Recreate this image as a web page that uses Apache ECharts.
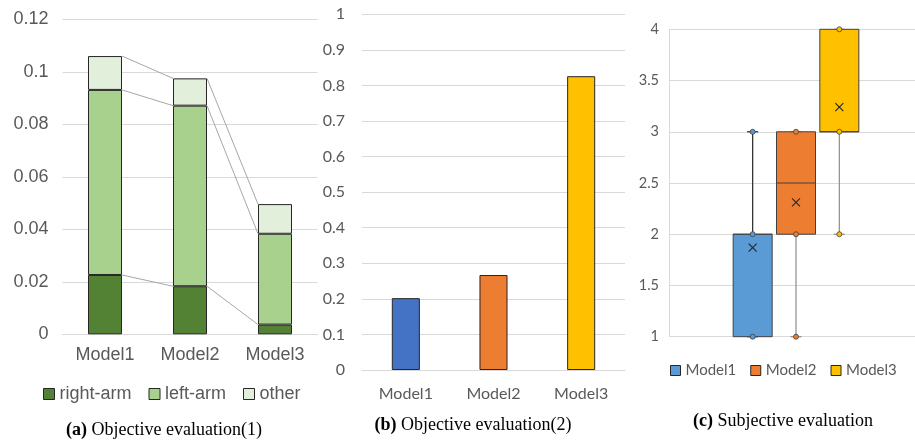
<!DOCTYPE html>
<html><head><meta charset="utf-8">
<script src="https://cdn.jsdelivr.net/npm/echarts@6/dist/echarts.min.js"></script>
<style>html,body{margin:0;padding:0;background:#fff}#c{width:915px;height:442px}</style>
</head><body><div id="c"></div>
<script>
// ---- data ----
const categories = ['Model1', 'Model2', 'Model3'];
// (a) stacked errors
const rightArm = [0.0226, 0.0183, 0.0037];
const leftArm  = [0.0705, 0.0688, 0.0346];
const other    = [0.0129, 0.0104, 0.0113];
// (b)
const objective2 = [0.202, 0.267, 0.826];
// (c) box stats per model: min, q1, median, q3, max, mean
const boxMin  = [1, 1, 2];
const boxQ1   = [1, 2, 3];
const boxMed  = [2, 2.5, 3];
const boxQ3   = [2, 3, 4];
const boxMax  = [3, 3, 4];
const boxMean = [1.87, 2.31, 3.24];
const boxPoints = [[1, 2, 3], [1, 2, 3], [2, 3, 4]];

const colorsA = ['#548235', '#A9D18E', '#E2EFDA'];
const colorsB = ['#4472C4', '#ED7D31', '#FFC000'];
const colorsC = ['#5B9BD5', '#ED7D31', '#FFC000'];
const grid = '#d9d9d9', txt = '#595959', edge = '#262626';

const chart = echarts.init(document.getElementById('c'), null, {renderer: 'canvas'});

// connector (series lines) data for panel a
const levels = [rightArm, leftArm, other];
const cum = categories.map((_, i) => {
  let s = 0; return levels.map(l => (s += l[i]));
});
const connData = [];
for (let i = 0; i < categories.length - 1; i++) {
  for (let k = 0; k < levels.length; k++) connData.push([i, cum[i][k], cum[i + 1][k]]);
}

const sansA = 'Liberation Sans', sansB = 'Lato';
const capFont = 18;

const option = {
  animation: false,
  grid: [
    {left: 62.5, width: 255, top: 19.3, height: 315},
    {left: 362, width: 263, top: 14.3, height: 355.7},
    {left: 669, right: -8, top: 29.3, height: 307.4},
    {left: 731, width: 130, top: 29.3, height: 307.4}
  ],
  xAxis: [
    {gridIndex: 0, type: 'category', data: categories, axisTick: {show: false},
     axisLine: {lineStyle: {color: grid}},
     axisLabel: {color: txt, fontFamily: sansA, fontSize: 18, margin: 12}},
    {gridIndex: 1, type: 'category', data: categories, axisTick: {show: false},
     axisLine: {lineStyle: {color: grid}},
     axisLabel: {color: txt, fontFamily: sansB, fontSize: 16, margin: 16}},
    {gridIndex: 2, type: 'category', data: [''], show: false},
    {gridIndex: 3, type: 'category', data: categories, show: false}
  ],
  yAxis: [
    {gridIndex: 0, type: 'value', min: 0, max: 0.12, interval: 0.02,
     axisLine: {show: false}, axisTick: {show: false},
     splitLine: {lineStyle: {color: grid}},
     axisLabel: {color: txt, fontFamily: sansA, fontSize: 18, margin: 14}},
    {gridIndex: 1, type: 'value', min: 0, max: 1, interval: 0.1,
     axisLine: {show: false}, axisTick: {show: false},
     splitLine: {lineStyle: {color: grid}},
     axisLabel: {color: txt, fontFamily: sansB, fontSize: 16, margin: 17}},
    {gridIndex: 2, type: 'value', min: 1, max: 4, interval: 0.5,
     axisLine: {show: true, lineStyle: {color: grid}}, axisTick: {show: false},
     splitLine: {lineStyle: {color: grid}},
     axisLabel: {color: txt, fontFamily: sansB, fontSize: 14.5, margin: 10}},
    {gridIndex: 3, type: 'value', min: 1, max: 4, show: false}
  ],
  legend: [
    {data: ['right-arm', 'left-arm', 'other'], left: 43, top: 385, padding: 0,
     icon: 'rect', itemWidth: 11, itemHeight: 11, itemGap: 17,
     itemStyle: {borderColor: edge, borderWidth: 1},
     textStyle: {color: txt, fontFamily: sansA, fontSize: 18}},
    {data: categories, left: 670, top: 363, padding: 0,
     icon: 'rect', itemWidth: 10, itemHeight: 10, itemGap: 14,
     itemStyle: {borderColor: edge, borderWidth: 1},
     textStyle: {color: txt, fontFamily: sansB, fontSize: 15}}
  ],
  series: [
    ...['right-arm', 'left-arm', 'other'].map((n, k) => ({
      name: n, type: 'bar', stack: 'a', xAxisIndex: 0, yAxisIndex: 0,
      barWidth: '40%', data: levels[k],
      itemStyle: {color: colorsA[k], borderColor: edge, borderWidth: 1}
    })),
    {
      name: 'conn', type: 'custom', xAxisIndex: 0, yAxisIndex: 0, silent: true,
      encode: {x: 0, y: [1, 2]}, data: connData, z: 1,
      renderItem: (params, api) => {
        const i = api.value(0);
        const half = api.size([1, 0])[0] * 0.2;
        const p1 = api.coord([i, api.value(1)]);
        const p2 = api.coord([i + 1, api.value(2)]);
        return {type: 'line', shape: {x1: p1[0] + half, y1: p1[1], x2: p2[0] - half, y2: p2[1]},
                style: {stroke: '#a6a6a6', lineWidth: 1}};
      }
    },
    {
      name: 'objective2', type: 'bar', xAxisIndex: 1, yAxisIndex: 1, barWidth: '32%',
      data: objective2.map((v, i) => ({value: v, itemStyle: {color: colorsB[i]}})),
      itemStyle: {borderColor: edge, borderWidth: 1}
    },
    ...categories.map((n, i) => ({
      name: n, type: 'custom', xAxisIndex: 3, yAxisIndex: 3,
      itemStyle: {color: colorsC[i]},
      encode: {x: 0, y: [1, 2, 3, 4, 5, 6]},
      data: [[i, boxMin[i], boxQ1[i], boxMed[i], boxQ3[i], boxMax[i], boxMean[i]]],
      renderItem: (params, api) => {
        const x = api.value(0);
        const hw = api.size([1, 0])[0] * 0.45;
        const P = v => api.coord([x, v]);
        const pMin = P(api.value(1)), pQ1 = P(api.value(2)), pMed = P(api.value(3));
        const pQ3 = P(api.value(4)), pMax = P(api.value(5)), pMean = P(api.value(6));
        const cx = pMin[0];
        const wc = i === 0 ? '#262626' : '#8c8c8c';
        const cap = 5.5, m = 4;
        return {type: 'group', children: [
          {type: 'line', shape: {x1: cx, y1: pMin[1], x2: cx, y2: pMax[1]}, style: {stroke: wc, lineWidth: 1.2}},
          {type: 'line', shape: {x1: cx - cap, y1: pMin[1], x2: cx + cap, y2: pMin[1]}, style: {stroke: wc, lineWidth: 1.2}},
          {type: 'line', shape: {x1: cx - cap, y1: pMax[1], x2: cx + cap, y2: pMax[1]}, style: {stroke: wc, lineWidth: 1.2}},
          {type: 'rect', shape: {x: cx - hw, y: pQ3[1], width: 2 * hw, height: pQ1[1] - pQ3[1]},
           style: {fill: api.visual('color'), stroke: '#404040', lineWidth: 1}},
          {type: 'line', shape: {x1: cx - hw, y1: pMed[1], x2: cx + hw, y2: pMed[1]}, style: {stroke: '#404040', lineWidth: 1}},
          {type: 'line', shape: {x1: cx - m, y1: pMean[1] - m, x2: cx + m, y2: pMean[1] + m}, style: {stroke: '#262626', lineWidth: 1.1}},
          {type: 'line', shape: {x1: cx - m, y1: pMean[1] + m, x2: cx + m, y2: pMean[1] - m}, style: {stroke: '#262626', lineWidth: 1.1}}
        ]};
      }
    })),
    ...categories.map((n, i) => ({
      name: n, type: 'scatter', xAxisIndex: 3, yAxisIndex: 3, z: 5,
      symbol: 'circle', symbolSize: 5,
      data: boxPoints[i].map(v => [i, v]),
      itemStyle: {color: colorsC[i], borderColor: '#404040', borderWidth: 0.8, opacity: 1}
    }))
  ],
  graphic: [
    {type: 'text', x: 164, y: 430, style: {text: '{b|(a)} Objective evaluation(1)', textAlign: 'center', textVerticalAlign: 'middle',
      font: capFont + 'px "Liberation Serif"', fill: '#000', rich: {b: {fontWeight: 'bold', fontFamily: 'Liberation Serif', fontSize: capFont}}}},
    {type: 'text', x: 473, y: 425, style: {text: '{b|(b)} Objective evaluation(2)', textAlign: 'center', textVerticalAlign: 'middle',
      font: capFont + 'px "Liberation Serif"', fill: '#000', rich: {b: {fontWeight: 'bold', fontFamily: 'Liberation Serif', fontSize: capFont}}}},
    {type: 'text', x: 783, y: 421.5, style: {text: '{b|(c)} Subjective evaluation', textAlign: 'center', textVerticalAlign: 'middle',
      font: capFont + 'px "Liberation Serif"', fill: '#000', rich: {b: {fontWeight: 'bold', fontFamily: 'Liberation Serif', fontSize: capFont}}}}
  ]
};
chart.setOption(option);
</script>
</body></html>
